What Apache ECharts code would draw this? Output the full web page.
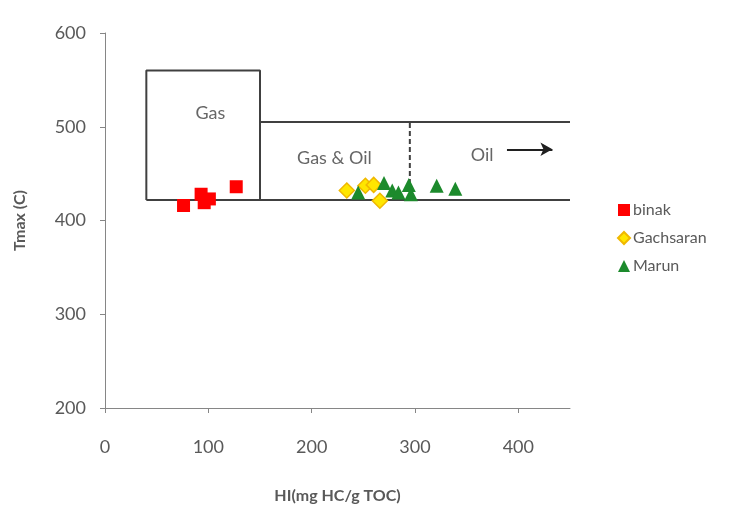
<!DOCTYPE html>
<html>
<head>
<meta charset="utf-8">
<script src="https://cdn.jsdelivr.net/npm/echarts@6/dist/echarts.min.js"></script>
<style>html,body{margin:0;padding:0;background:#fff}#c{width:731px;height:506px}</style>
</head>
<body>
<div id="c"></div>
<script>
// Data: [HI, Tmax]
const binak = [[76,416],[93,428],[96,419],[101,423],[127,436]];
const gachsaran = [[234,432],[252,437],[260,438],[266,421]];
const marun = [[245,430],[270,440],[278,432],[284,430],[294,438],[296,428],[321,437],[339,434]];

// Zone boundaries (data coordinates)
const gasBox = [[40,422],[40,560],[150,560],[150,422]];
const baseLine = [[40,422],[450,422]];
const gasOilTop = [[150,505],[450,505]];
const oilDivider = [[295,422],[295,505]];
const oilArrow = [[389,476],[433,476]];
const zoneLabels = [{value:[102,515],name:'Gas'},{value:[222,466],name:'Gas & Oil'},{value:[365,470],name:'Oil'}];

const xTicks = {min:0, max:450, interval:100};
const yTicks = {min:200, max:600, interval:100};

const FONT = 'Lato';
const AX = '#868686';
const TXT = '#595959';
const LN = '#404040';

const lineSeries = (d, dashed) => ({
  type:'line', data:d, symbol:'none', silent:true, animation:false,
  lineStyle:{color:LN, width:2, type: dashed ? [5,3] : 'solid'}, z:1
});

const chart = echarts.init(document.getElementById('c'), null, {renderer:'canvas'});
chart.setOption({
  animation:false,
  textStyle:{fontFamily:FONT},
  grid:{left:105, right:161, top:33, bottom:98, containLabel:false, outerBoundsMode:'none'},
  legend:{
    data:[{name:'binak', icon:'rect'},{name:'Gachsaran', icon:'diamond'},{name:'Marun', icon:'triangle'}],
    orient:'vertical', left:612, top:197, itemGap:12, itemWidth:12, itemHeight:12,
    textStyle:{fontFamily:FONT, fontSize:16, color:TXT, padding:[0,0,0,-2]}
  },
  xAxis:{
    type:'value', min:xTicks.min, max:xTicks.max, interval:xTicks.interval,
    name:'HI(mg HC/g TOC)', nameLocation:'middle', nameGap:80,
    nameTextStyle:{fontFamily:FONT, fontSize:16, fontWeight:'bold', color:TXT},
    axisLine:{show:true, onZero:false, lineStyle:{color:AX, width:1}},
    axisTick:{show:true, length:5, lineStyle:{color:AX}},
    axisLabel:{fontFamily:FONT, fontSize:18, color:TXT, margin:30, showMaxLabel:false},
    splitLine:{show:false}
  },
  yAxis:{
    type:'value', min:yTicks.min, max:yTicks.max, interval:yTicks.interval,
    name:'Tmax (C)', nameLocation:'middle', nameGap:77,
    nameTextStyle:{fontFamily:FONT, fontSize:16, fontWeight:'bold', color:TXT},
    axisLine:{show:true, onZero:false, lineStyle:{color:AX, width:1}},
    axisTick:{show:true, length:5, lineStyle:{color:AX}},
    axisLabel:{fontFamily:FONT, fontSize:18, color:TXT, margin:19},
    splitLine:{show:false}
  },
  series:[
    lineSeries(gasBox,false),
    lineSeries(baseLine,false),
    lineSeries(gasOilTop,false),
    lineSeries(oilDivider,true),
    {
      type:'line', data:[], silent:true, z:1,
      markLine:{
        silent:true, symbol:['none','arrow'], symbolSize:[10,12],
        lineStyle:{color:'#202020', width:2, type:'solid'},
        label:{show:false},
        data:[[{coord:oilArrow[0]},{coord:oilArrow[1]}]]
      }
    },
    {
      type:'scatter', data:zoneLabels, symbolSize:1, silent:true, z:2,
      itemStyle:{color:'rgba(0,0,0,0)'},
      label:{show:true, position:'inside', formatter:p=>p.name, fontFamily:FONT, fontSize:18, color:LN}
    },
    {
      name:'binak', type:'scatter', data:binak, symbol:'rect', symbolSize:13, z:5,
      itemStyle:{color:'#FF0000', opacity:1}
    },
    {
      name:'Gachsaran', type:'scatter', data:gachsaran, symbol:'diamond', symbolSize:15, z:5,
      itemStyle:{color:'#FFE600', borderColor:'#F0B800', borderWidth:1.5, opacity:1}
    },
    {
      name:'Marun', type:'scatter', data:marun, symbol:'triangle', symbolSize:[14,14], z:6,
      itemStyle:{color:'#1C8A2C', opacity:1}
    }
  ]
});
</script>
</body>
</html>
